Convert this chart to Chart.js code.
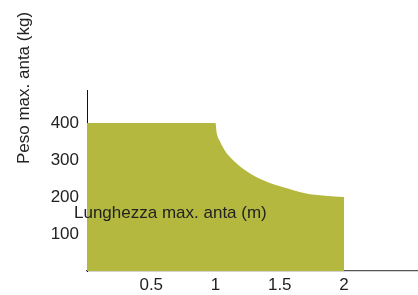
<!DOCTYPE html>
<html>
<head>
<meta charset="utf-8">
<script src="https://cdn.jsdelivr.net/npm/chart.js@4/dist/chart.umd.min.js"></script>
<style>
html,body{margin:0;padding:0;background:#fff;}
#wrap{width:418px;height:295px;position:relative;}
</style>
</head>
<body>
<div id="wrap"><canvas id="c" width="418" height="295"></canvas></div>
<script>
// Data
const lengthValues = [0, 1, 1.009, 1.035, 1.074, 1.126, 1.204, 1.282, 1.372, 1.463, 1.541, 1.6, 1.696, 1.852, 2];
const weightValues = [400, 400, 374, 350, 325, 303, 279, 261, 245, 233, 225, 219, 210, 203, 200];
const xTickValues = [0.5, 1, 1.5, 2];
const yTickValues = [100, 200, 300, 400];
const xTitle = 'Lunghezza max. anta (m)';
const yTitle = 'Peso max. anta (kg)';

const FONT = '"Liberation Sans", Arial, Helvetica, sans-serif';
const points = lengthValues.map((x, i) => ({x: x, y: weightValues[i]}));

const titlePlugin = {
  id: 'titles',
  afterDraw(chart) {
    const ctx = chart.ctx;
    const a = chart.chartArea;
    ctx.save();
    ctx.fillStyle = '#222';
    ctx.font = '17px ' + FONT;
    ctx.textBaseline = 'middle';
    ctx.textAlign = 'left';
    ctx.fillText(xTitle, a.left - 13, a.top + 123);
    ctx.translate(24, a.top - 2);
    ctx.rotate(-Math.PI / 2);
    ctx.textAlign = 'center';
    ctx.fillText(yTitle, 0, 0);
    ctx.restore();
  }
};

new Chart(document.getElementById('c'), {
  type: 'line',
  data: {
    datasets: [{
      data: points,
      fill: 'origin',
      backgroundColor: '#b4b83e',
      borderWidth: 0,
      borderColor: 'rgba(0,0,0,0)',
      pointRadius: 0,
      cubicInterpolationMode: 'monotone'
    }]
  },
  options: {
    responsive: false,
    animation: false,
    layout: {padding: {top: 90, right: 0, left: 0, bottom: 0}},
    plugins: {legend: {display: false}, tooltip: {enabled: false}},
    scales: {
      x: {
        type: 'linear',
        min: 0,
        max: 2.576,
        grid: {display: false, drawTicks: false, tickLength: 0},
        border: {display: true, color: '#555', width: 1.3},
        afterBuildTicks: s => { s.ticks = xTickValues.map(v => ({value: v})); },
        afterFit: s => { s.height = 24; },
        ticks: {color: '#222', font: {family: FONT, size: 17}, padding: 4, maxRotation: 0,
          callback: v => String(v)}
      },
      y: {
        type: 'linear',
        min: 0,
        max: 489,
        grid: {display: false, drawTicks: false, tickLength: 0},
        border: {display: true, color: '#111', width: 1},
        afterBuildTicks: s => { s.ticks = yTickValues.map(v => ({value: v})); },
        afterFit: s => { s.width = 87; },
        ticks: {color: '#222', font: {family: FONT, size: 17}, padding: 8,
          callback: v => String(v)}
      }
    }
  },
  plugins: [titlePlugin]
});
</script>
</body>
</html>
